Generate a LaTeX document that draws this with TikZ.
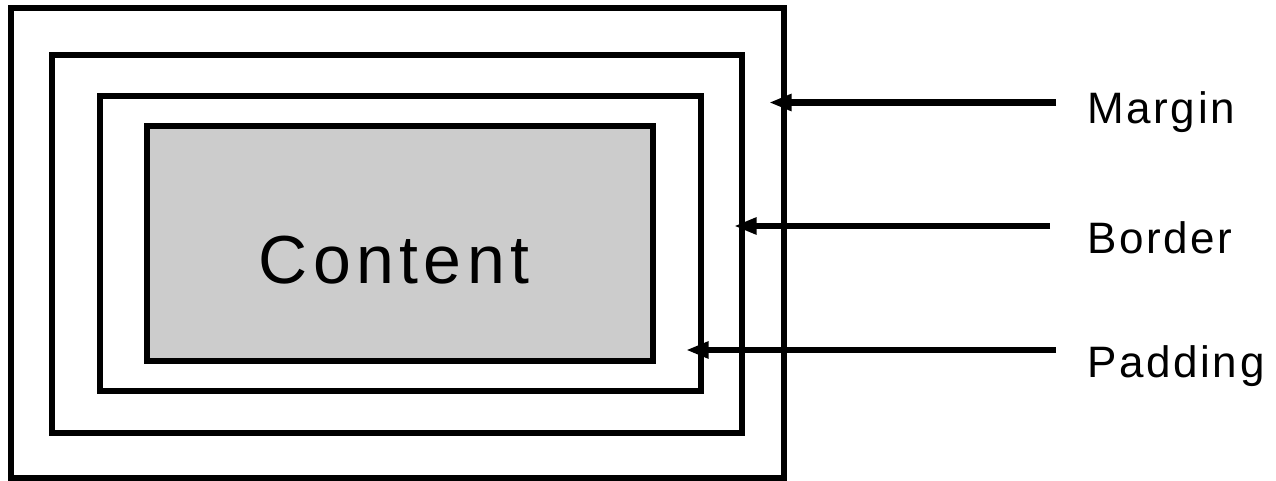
\documentclass[tikz,border=0pt]{standalone}
\usepackage{fontspec}
\setmainfont{Liberation Sans}[LetterSpace=6]
\newfontfamily\contentfont{Liberation Sans}[LetterSpace=8]
\usetikzlibrary{arrows.meta}
\definecolor{contentgray}{HTML}{CCCCCC}
\tikzset{
  box/.style={line width=5.2pt, draw=black},
  pointer/.style={line width=5pt, -{Triangle[length=17pt,width=12pt]}},
  lbl/.style={anchor=base west, inner sep=0pt, font=\fontsize{33}{40}\selectfont},
}
\begin{document}
\begin{tikzpicture}[x=0.75pt,y=-0.75pt]
\useasboundingbox (0,0) rectangle (1276,481);
\draw[box] (11,8) rectangle (784,478);
\draw[box] (52,55) rectangle (742,433);
\draw[box] (100,96) rectangle (701,391);
\draw[box, fill=contentgray] (147,126) rectangle (653,361);
\node[anchor=base, inner sep=0pt, font=\contentfont\fontsize{51}{60}\selectfont] (content) at (394,283) {Content};
\node[lbl] (margin) at (1087,123) {Margin};
\node[lbl] (border) at (1087,253) {Border};
\node[lbl] (padding) at (1087,377) {Padding};
\coordinate (ms) at (1056,102.5);
\coordinate (mt) at (769,102.5);
\coordinate (bs) at (1050,226);
\coordinate (bt) at (734,226);
\coordinate (ps) at (1056,350);
\coordinate (pt) at (686,350);
\draw[pointer] (ms) -- (mt);
\draw[pointer] (bs) -- (bt);
\draw[pointer] (ps) -- (pt);
\end{tikzpicture}
\end{document}
